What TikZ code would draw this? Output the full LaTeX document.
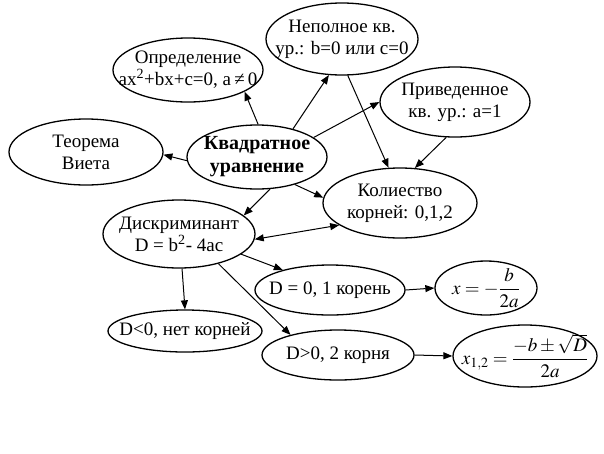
\documentclass[tikz,border=0pt]{standalone}
\usepackage{amsmath}
\usepackage{mathptmx}
\usepackage{fontspec}
\setmainfont{Liberation Serif}
\usetikzlibrary{shapes.geometric,arrows.meta}
\tikzset{
  ell/.style={draw=black, line width=1.3pt, ellipse, inner sep=0pt},
  txt/.style={align=center, inner sep=0pt, font=\fontsize{19}{22}\selectfont},
  arr/.style={draw=black, line width=1pt, -{Triangle[length=9pt,width=7pt]}},
  darr/.style={draw=black, line width=1pt, {Triangle[length=9pt,width=7pt]}-{Triangle[length=9pt,width=7pt]}}
}
\begin{document}
\begin{tikzpicture}[x=1pt,y=-1pt]
\useasboundingbox (0,0) rectangle (604,453);
% ellipses
\node[ell, minimum width=150, minimum height=64] (opr) at (188,70) {};
\node[ell, minimum width=152, minimum height=72] (nep) at (342,39) {};
\node[ell, minimum width=150, minimum height=70] (pri) at (455,102) {};
\node[ell, minimum width=154, minimum height=66] (teo) at (86,152) {};
\node[ell, minimum width=140, minimum height=64] (kv) at (257,157) {};
\node[ell, minimum width=154, minimum height=70] (kol) at (400,203) {};
\node[ell, minimum width=152, minimum height=68] (dis) at (179,234) {};
\node[ell, minimum width=150, minimum height=50] (dz) at (330,290) {};
\node[ell, minimum width=102, minimum height=54] (xz) at (486,288) {};
\node[ell, minimum width=154, minimum height=42] (dn) at (185,331) {};
\node[ell, minimum width=152, minimum height=50] (dp) at (338,355) {};
\node[ell, minimum width=144, minimum height=62] (xp) at (525,356) {};
% texts
\node[txt] (opr-t) at (opr) {Определение\\ax\textsuperscript{2}+bx+c=0, a\,≠\,0};
\node[txt] (nep-t) at (nep) {Неполное кв.\\ур.: b=0 или с=0};
\node[txt] (pri-t) at (pri) {Приведенное\\кв. ур.: a=1};
\node[txt] (teo-t) at (teo) {Теорема\\Виета};
\node[txt, font=\fontsize{20}{23}\selectfont\bfseries] (kv-t) at (kv) {Квадратное\\уравнение};
\node[txt] (kol-t) at (kol) {Колиество\\корней: 0,1,2};
\node[txt] (dis-t) at (dis) {Дискриминант\\D = b\textsuperscript{2}- 4ac};
\node[txt] (dz-t) at (dz) {D = 0, 1 корень};
\node[txt] (xz-t) at (xz) {$x=-\dfrac{b}{2a}$};
\node[txt] (dn-t) at (dn) {D<0, нет корней};
\node[txt] (dp-t) at (dp) {D>0, 2 корня};
\node[txt] (xp-t) at (xp) {$x_{1,2}=\dfrac{-b\pm\sqrt{D}}{2a}$};
% connectors
\draw[arr] (kv.88) -- (opr.-21);
\draw[arr] (kv.38) -- (nep.-110);
\draw[arr] (kv.19) -- (pri.180);
\draw[arr] (kv.183) -- (teo.-2);
\draw[arr] (kv.-68) -- (dis.16);
\draw[arr] (kv.-36) -- (kol.176);
\draw[arr] (nep.-81) -- (kol.108);
\draw[arr] (pri.-104) -- (kol.67);
\draw[darr] (dis.-4) -- (kol.200);
\draw[arr] (dis.-18) -- (dz.157);
\draw[arr] (dis.-85) -- (dn.90);
\draw[arr] (dis.-37) -- (dp.157);
\draw[arr] (dz.0) -- (xz.180);
\draw[arr] (dp.0) -- (xp.180);
\end{tikzpicture}
\end{document}
